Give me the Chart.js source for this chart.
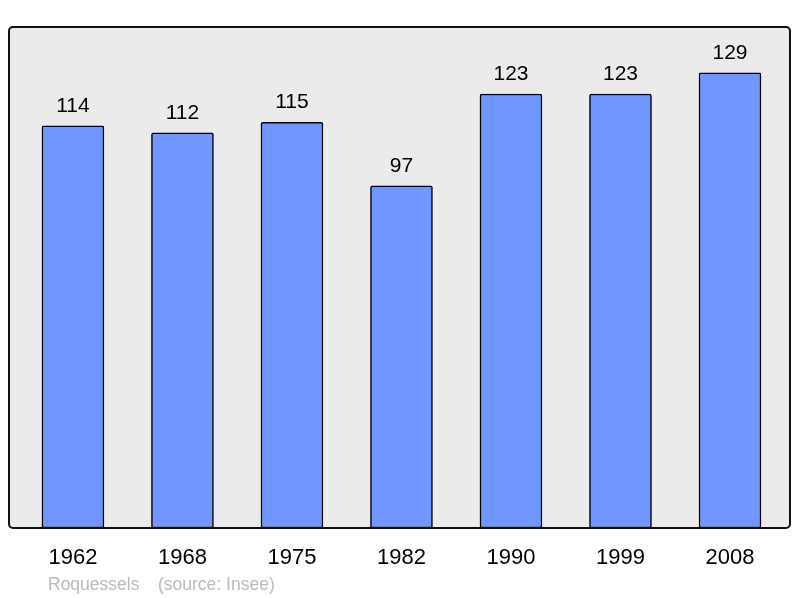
<!DOCTYPE html>
<html>
<head>
<meta charset="utf-8">
<script src="https://cdn.jsdelivr.net/npm/chart.js@4/dist/chart.umd.min.js"></script>
<style>
  html, body { margin: 0; padding: 0; background: #fff; }
  #wrap { width: 800px; height: 598px; }
</style>
</head>
<body>
<div id="wrap"><canvas id="grafico"></canvas></div>
<script>
// données
const annees = ["1962", "1968", "1975", "1982", "1990", "1999", "2008"];
const population = [114, 112, 115, 97, 123, 123, 129];
const commune = "Roquessels";
const source = "(source: Insee)";

// cadre gris arrondi derrière les barres
const cadre = {
  id: "cadre",
  beforeDatasetsDraw(chart) {
    const { ctx, chartArea: a } = chart;
    ctx.save();
    ctx.beginPath();
    ctx.roundRect(a.left, a.top, a.right - a.left, a.bottom - a.top, 4);
    ctx.fillStyle = "#ebebeb";
    ctx.fill();
    ctx.restore();
  },
  afterDatasetsDraw(chart) {
    const { ctx, chartArea: a } = chart;
    ctx.save();
    ctx.beginPath();
    ctx.roundRect(a.left, a.top, a.right - a.left, a.bottom - a.top, 4);
    ctx.lineWidth = 2;
    ctx.strokeStyle = "#111";
    ctx.stroke();

    // valeurs au-dessus des barres
    ctx.font = "21px 'Liberation Sans', Arial, sans-serif";
    ctx.fillStyle = "#000";
    ctx.textAlign = "center";
    ctx.textBaseline = "alphabetic";
    chart.getDatasetMeta(0).data.forEach((bar, i) => {
      ctx.fillText(population[i], bar.x, bar.y - 14);
    });

    // légende en bas
    ctx.font = "17.5px 'Liberation Sans', Arial, sans-serif";
    ctx.fillStyle = "#bbbbbb";
    ctx.textAlign = "left";
    ctx.fillText(commune, 48, 590);
    ctx.fillText(source, 158, 590);
    ctx.restore();
  }
};

new Chart(document.getElementById("grafico"), {
  type: "bar",
  data: {
    datasets: [{
      data: population.map((v, i) => ({ x: i, y: v })),
      backgroundColor: "#7096ff",
      borderColor: "#000",
      borderWidth: 1.5,
      borderRadius: 2,
      borderSkipped: false,
      barThickness: 62
    }]
  },
  options: {
    responsive: true,
    maintainAspectRatio: false,
    animation: false,
    layout: { padding: { left: 9, top: 27, right: 10, bottom: 9.6 } },
    plugins: { legend: { display: false }, tooltip: { enabled: false } },
    scales: {
      x: {
        type: "linear",
        offset: false,
        min: -0.584,
        max: 6.548,
        afterBuildTicks: (axis) => { axis.ticks = annees.map((a, i) => ({ value: i })); },
        ticks: {
          callback: (v) => annees[v] ?? "",
          font: { size: 22, family: "'Liberation Sans', Arial, sans-serif" },
          color: "#000",
          padding: 17,
          maxRotation: 0,
          autoSkip: false
        },
        grid: { display: false, drawTicks: false },
        border: { display: false }
      },
      y: {
        display: false,
        min: 0,
        max: 142
      }
    }
  },
  plugins: [cadre]
});
</script>
</body>
</html>
